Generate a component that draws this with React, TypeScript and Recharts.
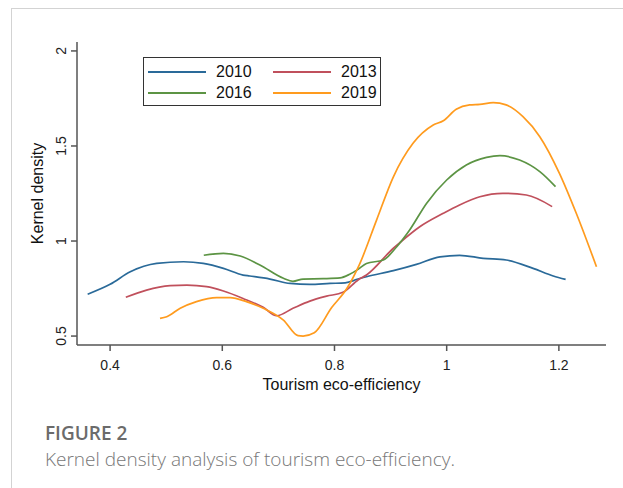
import { Line, LineChart, XAxis, YAxis } from "recharts"

// tourism eco-efficiency (x) and kernel density estimate (y) per year
const eff2010 = [0.36, 0.4, 0.436, 0.483, 0.531, 0.566, 0.602, 0.637, 0.649, 0.685, 0.721, 0.756, 0.792, 0.819, 0.842, 0.857, 0.905, 0.946, 0.988, 1.023, 1.065, 1.106, 1.154, 1.19, 1.212]
const dens2010 = [0.72, 0.772, 0.838, 0.882, 0.891, 0.882, 0.856, 0.821, 0.816, 0.8, 0.777, 0.772, 0.777, 0.78, 0.8, 0.812, 0.844, 0.877, 0.917, 0.925, 0.909, 0.9, 0.856, 0.816, 0.798]

const eff2013 = [0.428, 0.465, 0.507, 0.537, 0.572, 0.602, 0.637, 0.673, 0.697, 0.726, 0.756, 0.786, 0.815, 0.842, 0.857, 0.905, 0.916, 0.952, 0.994, 1.023, 1.059, 1.1, 1.142, 1.188]
const dens2013 = [0.704, 0.742, 0.765, 0.768, 0.76, 0.737, 0.698, 0.651, 0.607, 0.646, 0.684, 0.71, 0.73, 0.795, 0.821, 0.962, 0.99, 1.075, 1.146, 1.19, 1.233, 1.251, 1.242, 1.181]

const eff2016 = [0.567, 0.602, 0.632, 0.667, 0.709, 0.726, 0.744, 0.78, 0.81, 0.827, 0.842, 0.857, 0.887, 0.911, 0.934, 0.964, 1.0, 1.035, 1.071, 1.095, 1.13, 1.166, 1.194]
const dens2016 = [0.925, 0.935, 0.921, 0.874, 0.804, 0.788, 0.8, 0.802, 0.806, 0.825, 0.851, 0.882, 0.9, 0.97, 1.058, 1.198, 1.321, 1.4, 1.44, 1.449, 1.426, 1.365, 1.286]

const eff2019 = [0.489, 0.501, 0.525, 0.554, 0.59, 0.614, 0.643, 0.673, 0.709, 0.735, 0.744, 0.764, 0.795, 0.822, 0.845, 0.875, 0.905, 0.94, 0.976, 0.994, 1.017, 1.041, 1.059, 1.083, 1.106, 1.136, 1.166, 1.201, 1.231, 1.267]
const dens2019 = [0.593, 0.602, 0.646, 0.681, 0.702, 0.702, 0.681, 0.646, 0.584, 0.502, 0.5, 0.517, 0.65, 0.75, 0.88, 1.11, 1.338, 1.514, 1.61, 1.633, 1.693, 1.716, 1.719, 1.728, 1.716, 1.654, 1.549, 1.356, 1.146, 0.865]

const years = ["2010", "2013", "2016", "2019"]
const COLORS = ["#2a6a99", "#c0505c", "#5c9444", "#ff9b1e"]

const xTicks = [0.4, 0.6, 0.8, 1, 1.2]
const yTicks = [0.5, 1, 1.5, 2]

const zip = (xs: number[], ys: number[]) => xs.map((x, i) => ({ x, y: ys[i] }))

const series = [
  zip(eff2010, dens2010),
  zip(eff2013, dens2013),
  zip(eff2016, dens2016),
  zip(eff2019, dens2019),
]

const AXIS = "#555"
const FONT = "'Liberation Sans', Arial, sans-serif"

// stata-style vertical y tick labels
function RotatedTick(props: any) {
  const { x, y, payload } = props
  const bx = x - 3
  return (
    <text
      x={bx}
      y={y}
      transform={`rotate(-90 ${bx} ${y})`}
      textAnchor="middle"
      fontSize={14}
      fontFamily={FONT}
      fill="#222"
    >
      {payload.value}
    </text>
  )
}

function LegendBox() {
  const cells = [0, 1, 2, 3]
  return (
    <div
      style={{
        position: "absolute",
        left: 143,
        top: 57,
        width: 236,
        height: 47,
        border: "1.5px solid #333",
        background: "#fff",
        fontFamily: FONT,
        fontSize: 16,
        color: "#111",
      }}
    >
      {cells.map((i) => (
        <div
          key={years[i]}
          style={{
            position: "absolute",
            left: i % 2 === 0 ? 4 : 129,
            top: i < 2 ? 4 : 25,
            height: 20,
            display: "flex",
            alignItems: "center",
          }}
        >
          <div style={{ width: 58, height: 2, background: COLORS[i] }} />
          <span style={{ marginLeft: 10 }}>{years[i]}</span>
        </div>
      ))}
    </div>
  )
}

export default function App() {
  return (
    <div
      style={{
        position: "fixed",
        left: 0,
        top: 0,
        width: 623,
        height: 488,
        overflow: "hidden",
        background: "#fff",
      }}
    >
      <div
        style={{
          position: "absolute",
          left: 11,
          top: 8,
          width: 700,
          height: 600,
          borderLeft: "1px solid #d3d3d3",
          borderTop: "1px solid #d3d3d3",
        }}
      />
      <div style={{ position: "absolute", left: 0, top: 0 }}>
        <LineChart width={623} height={400} margin={{ top: 42, right: 17, bottom: 0, left: 0 }}>
          <XAxis
            type="number"
            dataKey="x"
            domain={[0.341, 1.284]}
            ticks={xTicks}
            allowDataOverflow
            stroke={AXIS}
            strokeWidth={1.5}
            tickSize={6}
            tickMargin={9}
            height={55}
            tick={{ fontSize: 14, fill: "#222", fontFamily: FONT }}
            label={{
              value: "Tourism eco-efficiency",
              position: "insideBottom",
              offset: 10,
              style: { fontSize: 16, fill: "#111", fontFamily: FONT },
            }}
          />
          <YAxis
            type="number"
            domain={[0.453, 2.047]}
            ticks={yTicks}
            allowDataOverflow
            stroke={AXIS}
            strokeWidth={1.5}
            tickSize={6}
            tickMargin={2}
            width={77}
            tick={<RotatedTick />}
            label={{
              value: "Kernel density",
              angle: -90,
              position: "insideLeft",
              offset: 37,
              style: { fontSize: 16, fill: "#111", fontFamily: FONT, textAnchor: "middle" },
            }}
          />
          {series.map((d, i) => (
            <Line
              key={years[i]}
              data={d}
              dataKey="y"
              name={years[i]}
              type="monotone"
              stroke={COLORS[i]}
              strokeWidth={1.7}
              dot={false}
              isAnimationActive={false}
            />
          ))}
        </LineChart>
      </div>
      <LegendBox />
      <div
        style={{
          position: "absolute",
          left: 45,
          top: 420,
          fontFamily: "'Open Sans', 'Noto Sans', sans-serif",
          color: "#6b6b6b",
          lineHeight: "26px",
          whiteSpace: "nowrap",
        }}
      >
        <div style={{ fontSize: 19, fontWeight: 600 }}>FIGURE 2</div>
        <div style={{ fontSize: 19, fontWeight: 300, color: "#777" }}>
          Kernel density analysis of tourism eco-efficiency.
        </div>
      </div>
    </div>
  )
}
